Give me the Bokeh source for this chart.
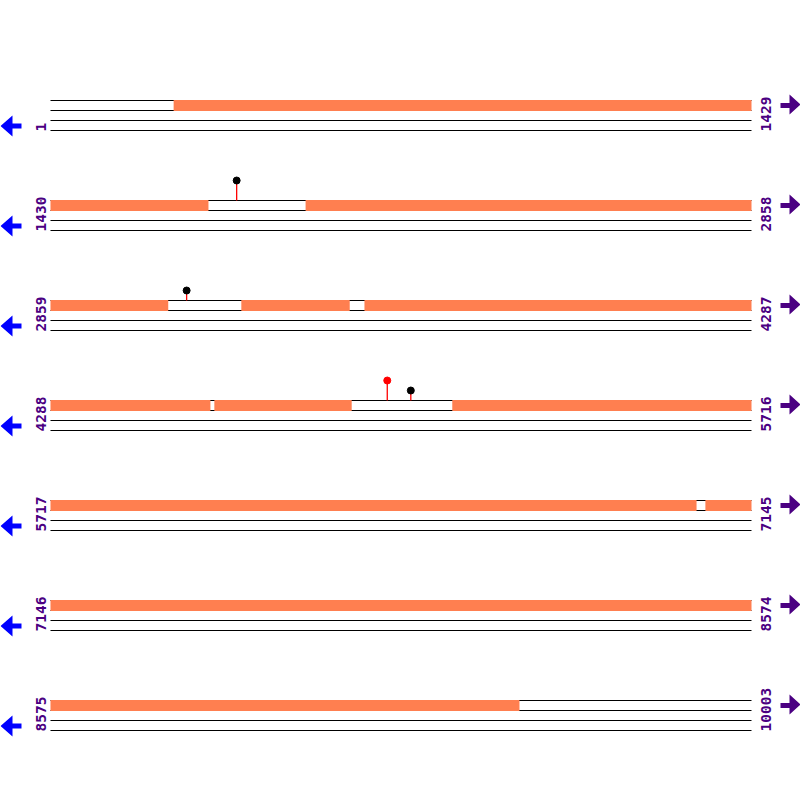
import math
from bokeh.plotting import figure
from bokeh.models import Range1d
from bokeh.embed import file_html
from bokeh.resources import INLINE
from bokeh.core.properties import value

# ---- data ----
row_starts = [1, 1430, 2859, 4288, 5717, 7146, 8575]
row_ends = [1429, 2858, 4287, 5716, 7145, 8574, 10003]

cov_starts = [252, 1430, 1950, 2859, 3248, 3499, 4288, 4622, 5107, 5717, 7052, 7146, 8575]
cov_ends = [1429, 1751, 2858, 3098, 3468, 4287, 4613, 4901, 5716, 7033, 7145, 8574, 9530]

mut_pos = [1809, 3136, 4974, 5022]
mut_level = [2, 1, 2, 1]
mut_color = ["black", "black", "red", "black"]

# ---- layout helpers ----
ROW_LEN = 1429
K = 701 / ROW_LEN          # reference pixels per base
ROW_STEP = 100             # vertical distance between rows (ref px)
BAND_TOP = 100             # first row band top (ref px)
W = 800


def bx(px):
    return (px - 50) / K


def Y(ref):
    return W - ref


def row_of(pos):
    for i, (s, e) in enumerate(zip(row_starts, row_ends)):
        if s <= pos <= e:
            return i
    return None


p = figure(width=W, height=W, x_range=Range1d(bx(0), bx(W)),
           y_range=Range1d(0, W), toolbar_location=None,
           output_backend="svg", min_border=0)
p.axis.visible = False
p.grid.visible = False
p.outline_line_color = None
p.background_fill_color = "white"

# horizontal track lines
lx0, lx1, ly = [], [], []
for r in range(len(row_starts)):
    base = BAND_TOP + ROW_STEP * r
    for off in (0, 10, 20, 30):
        lx0.append(0)
        lx1.append(row_ends[r] - row_starts[r] + 1)
        ly.append(Y(base + off))
p.segment(x0=lx0, x1=lx1, y0=ly, y1=ly, line_color="black", line_width=1)

# coverage bars
ql, qr, qt, qb = [], [], [], []
for s, e in zip(cov_starts, cov_ends):
    r = row_of(s)
    base = BAND_TOP + ROW_STEP * r
    ql.append(s - row_starts[r])
    qr.append(e - row_starts[r] + 1)
    qt.append(Y(base - 0.5))
    qb.append(Y(base + 10.5))
p.quad(left=ql, right=qr, top=qt, bottom=qb, fill_color="#FF7F50",
       line_color=None)

# mutations (lollipops)
mx, my0, my1 = [], [], []
for pos, lvl in zip(mut_pos, mut_level):
    r = row_of(pos)
    base = BAND_TOP + ROW_STEP * r
    mx.append(pos - row_starts[r] + 0.5)
    my0.append(Y(base))
    my1.append(Y(base - 10 * lvl))
p.segment(x0=mx, x1=mx, y0=my0, y1=my1, line_color="red", line_width=1.3)
p.scatter(x=mx, y=my1, size=7, marker="circle", fill_color=mut_color,
          line_color=mut_color)

# position labels
tx, ty, tt = [], [], []
for r in range(len(row_starts)):
    base = BAND_TOP + ROW_STEP * r
    tx += [bx(40.5), bx(765.5)]
    ty += [Y(base + 31), Y(base + 31)]
    tt += [str(row_starts[r]), str(row_ends[r])]
p.text(x=tx, y=ty, text=tt, angle=math.pi / 2, text_align="left",
       text_baseline="middle", text_color="#4B0082",
       text_font=value("DejaVu Sans Mono"), text_font_style="bold",
       text_font_size="14.5px")

# strand arrows
left_shape = [(0, 25.5), (12, 15), (12, 23), (21, 23), (21, 28), (12, 28), (12, 36)]
right_shape = [(800, 4), (789, -6), (789, 2.5), (780, 2.5), (780, 7.5), (789, 7.5), (789, 14)]
axs, ays, acol = [], [], []
for r in range(len(row_starts)):
    base = BAND_TOP + ROW_STEP * r
    axs.append([bx(x) for x, _ in left_shape])
    ays.append([Y(base + y) for _, y in left_shape])
    acol.append("#0000FF")
    axs.append([bx(x) for x, _ in right_shape])
    ays.append([Y(base + y) for _, y in right_shape])
    acol.append("#4B0082")
p.patches(xs=axs, ys=ays, fill_color=acol, line_color=None)

open("out.html", "w").write(file_html(p, INLINE))
